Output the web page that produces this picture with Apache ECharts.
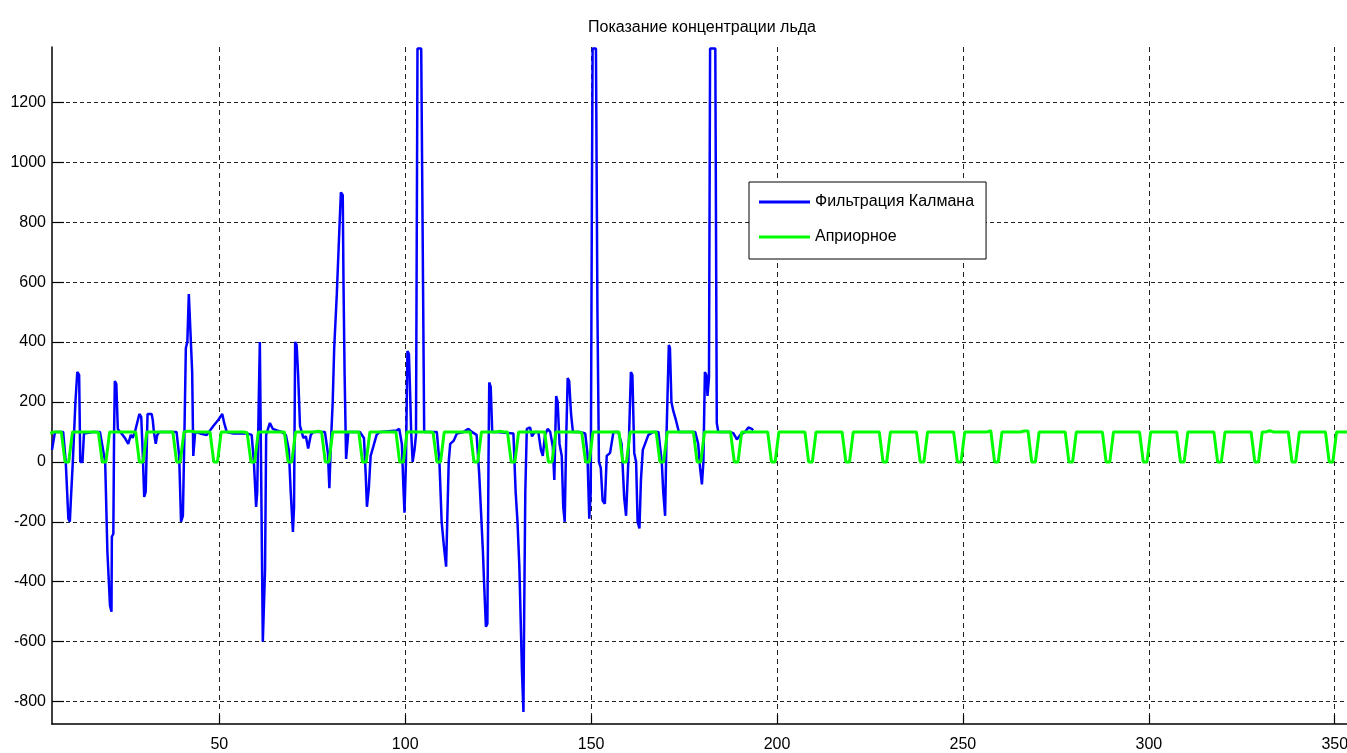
<!DOCTYPE html>
<html><head><meta charset="utf-8">
<script src="https://cdn.jsdelivr.net/npm/echarts@6/dist/echarts.min.js"></script>
<style>html,body{margin:0;padding:0;background:#fff}#c{width:1347px;height:753px}</style>
</head><body><div id="c"></div>
<script>
const titleText = 'Показание концентрации льда';
const seriesNames = ['Фильтрация Калмана', 'Априорное'];
const xTicks = [50, 100, 150, 200, 250, 300, 350];
const yTicks = [-800, -600, -400, -200, 0, 200, 400, 600, 800, 1000, 1200];

// Kalman filter trace (x, value)
const kalmanX = [
  5.0, 5.8, 8.0, 8.7, 9.4, 9.8, 10.1, 10.6, 11.3, 11.8, 12.3, 12.6, 13.2, 13.6, 14.1, 16.0, 17.9, 18.4, 19.3, 19.7,
  19.9, 20.6, 21.0, 21.1, 21.5, 21.7, 21.9, 22.3, 22.7, 23.3, 24.0, 24.6, 25.5, 26.2, 26.7, 27.3, 27.9, 28.5, 29.0, 29.4,
  29.8, 30.2, 30.7, 31.8, 32.1, 32.4, 32.9, 33.3, 33.9, 36.0, 38.5, 39.2, 39.7, 40.2, 40.6, 41.0, 41.4, 41.8, 42.3, 42.7,
  43.0, 43.5, 44.8, 46.6, 48.4, 49.7, 50.8, 51.3, 52.0, 53.8, 57.4, 58.7, 59.3, 59.9, 60.2, 60.6, 60.9, 61.4, 61.7, 62.0,
  62.3, 62.6, 63.1, 63.6, 64.4, 65.5, 66.8, 67.9, 68.7, 69.2, 69.8, 70.1, 70.4, 70.8, 71.2, 71.7, 72.6, 73.3, 73.9, 74.6,
  75.3, 78.4, 79.2, 79.6, 80.0, 80.5, 80.9, 81.6, 82.3, 82.7, 83.2, 83.4, 83.7, 84.1, 84.7, 86.0, 87.8, 88.9, 89.4, 89.7,
  90.2, 90.7, 91.4, 92.3, 93.2, 97.7, 98.4, 99.1, 99.5, 99.8, 100.2, 100.6, 101.0, 101.3, 101.6, 102.0, 102.5, 102.9, 103.3, 104.3,
  104.7, 105.1, 108.5, 109.2, 109.8, 110.4, 111.0, 111.3, 111.7, 112.1, 113.0, 113.9, 115.7, 117.0, 117.9, 119.2, 119.9, 120.4, 120.9, 121.2,
  121.7, 122.1, 122.4, 122.6, 123.0, 123.4, 124.6, 129.1, 129.7, 130.2, 130.7, 131.1, 131.4, 131.8, 132.0, 132.3, 132.7, 133.6, 134.1, 134.9,
  135.8, 136.5, 137.0, 137.6, 138.3, 139.0, 139.7, 140.1, 140.6, 141.0, 141.5, 142.1, 142.5, 142.9, 143.3, 143.7, 144.1, 144.6, 145.1, 147.0,
  148.4, 149.0, 149.5, 149.9, 150.2, 150.4, 151.3, 151.7, 152.1, 152.6, 153.1, 153.7, 154.2, 155.1, 156.0, 157.3, 158.2, 158.9, 159.4, 160.0,
  160.7, 161.1, 161.6, 162.1, 162.5, 163.0, 163.4, 163.9, 164.5, 165.4, 166.7, 168.1, 169.0, 169.4, 169.9, 170.3, 170.9, 171.2, 171.6, 172.1,
  172.8, 173.6, 175.7, 178.0, 178.8, 179.3, 179.8, 180.2, 180.6, 181.0, 181.3, 181.7, 182.0, 183.4, 183.8, 184.2, 187.4, 188.3, 189.2, 190.1,
  191.4, 192.3, 193.2, 193.6
];
const kalmanY = [
  40, 100, 100, 0, -190, -200, -120, 0, 200, 300, 290, 0, 0, 95, 100, 100, 100, 95, 0, -200,
  -300, -480, -500, -250, -240, 100, 270, 260, 110, 100, 90, 80, 60, 90, 80, 100, 130, 160, 150, 30,
  -117, -100, 160, 160, 140, 100, 60, 90, 100, 100, 100, 20, -200, -180, 80, 380, 400, 560, 560, 300,
  20, 100, 95, 90, 120, 140, 160, 130, 100, 95, 95, 90, 0, -150, -100, 200, 400, 400, -600, -600,
  -360, 90, 110, 130, 110, 105, 100, 90, 40, -100, -234, -150, 400, 390, 290, 120, 80, 85, 45, 90,
  100, 100, 30, -88, 60, 200, 380, 560, 780, 900, 890, 600, 290, 10, 100, 100, 100, 80, -50, -150,
  -90, 20, 50, 90, 100, 105, 110, 60, -80, -170, 0, 370, 360, 240, 100, 0, 40, 90, 1380, 1380,
  740, 100, 100, 0, -200, -280, -350, -200, 0, 60, 70, 95, 100, 110, 100, 90, -40, -170, -300, -400,
  -550, -540, 0, 265, 250, 100, 100, 95, -100, -200, -350, -550, -700, -835, -500, -100, 110, 115, 85, 100,
  100, 40, 20, 90, 110, 100, 50, -60, 220, 200, 60, 20, -150, -200, 80, 280, 270, 160, 100, 100,
  95, 30, -190, -100, 850, 1380, 1380, 500, 0, -20, -130, -140, 20, 30, 100, 100, 60, -120, -180, 0,
  300, 290, 30, 0, -200, -222, -60, 40, 60, 90, 100, 100, 0, -100, -180, 100, 390, 380, 200, 170,
  140, 100, 100, 100, 60, -20, -75, 0, 300, 290, 220, 280, 1380, 1380, 130, 100, 100, 95, 75, 90,
  100, 115, 110, 105
];

// A-priori trace, one sample per unit starting at aprioriStart
const aprioriStart = 4.5;
const aprioriY = [
  95, 100, 100, 100, 0, 0, 100, 100, 100, 100,
  100, 100, 100, 98, 0, 0, 100, 100, 100, 100,
  100, 100, 100, 100, 0, 0, 100, 100, 100, 100,
  100, 100, 100, 100, 0, 0, 100, 102, 102, 100,
  100, 100, 100, 100, 0, 0, 100, 100, 100, 100,
  100, 100, 100, 97, 0, 0, 100, 100, 100, 100,
  100, 100, 100, 100, 0, 0, 100, 100, 100, 100,
  100, 100, 102, 100, 0, 0, 100, 100, 100, 100,
  100, 100, 100, 100, 0, 0, 100, 100, 100, 100,
  100, 100, 100, 100, 0, 0, 100, 100, 101, 100,
  100, 100, 100, 98, 0, 0, 100, 100, 100, 100,
  100, 100, 100, 100, 0, 0, 100, 100, 100, 100,
  100, 102, 100, 100, 0, 0, 100, 100, 100, 100,
  100, 100, 100, 100, 0, 0, 100, 100, 100, 100,
  100, 100, 100, 97, 0, 0, 100, 100, 100, 100,
  100, 100, 100, 100, 0, 0, 100, 100, 100, 100,
  100, 100, 100, 100, 0, 0, 100, 100, 100, 100,
  100, 100, 100, 100, 0, 0, 100, 100, 100, 100,
  100, 100, 100, 100, 0, 0, 100, 100, 100, 100,
  100, 100, 100, 100, 0, 0, 100, 100, 100, 100,
  100, 100, 100, 100, 0, 0, 100, 100, 100, 100,
  100, 100, 100, 100, 0, 0, 100, 100, 100, 100,
  100, 100, 100, 100, 0, 0, 100, 100, 100, 100,
  100, 100, 100, 100, 0, 0, 100, 100, 100, 100,
  100, 100, 100, 100, 0, 0, 100, 100, 100, 100,
  100, 100, 100, 104, 0, 0, 100, 100, 100, 100,
  100, 100, 103, 103, 0, 0, 100, 100, 100, 100,
  100, 100, 100, 100, 0, 0, 100, 100, 100, 100,
  100, 100, 100, 100, 0, 0, 100, 100, 100, 100,
  100, 100, 100, 100, 0, 0, 100, 100, 100, 100,
  100, 100, 100, 100, 0, 0, 100, 100, 100, 100,
  100, 100, 100, 100, 0, 0, 100, 100, 100, 100,
  100, 100, 100, 100, 0, 0, 100, 100, 104, 100,
  100, 100, 100, 100, 0, 0, 100, 100, 100, 100,
  100, 100, 100, 100, 0, 0, 100, 100, 100, 100
];

const FONT = "'Liberation Sans', Arial, sans-serif";

const kalmanData = kalmanX.map((x, i) => [x, kalmanY[i]]);
const aprioriData = aprioriY.map((y, i) => [aprioriStart + i, y]);

const chart = echarts.init(document.getElementById('c'), null, {renderer: 'canvas'});
chart.setOption({
  animation: false,
  backgroundColor: '#ffffff',
  title: {
    text: titleText, left: 697, top: 15, textAlign: 'center',
    textStyle: {fontFamily: FONT, fontSize: 16, fontWeight: 'normal', color: '#000'}
  },
  legend: {
    orient: 'vertical', left: 749, top: 182, icon: 'rect',
    padding: [10, 12, 12, 10], itemGap: 15, itemWidth: 51, itemHeight: 3,
    backgroundColor: '#fff', borderColor: '#000', borderWidth: 1, borderRadius: 0,
    textStyle: {fontFamily: FONT, fontSize: 16, lineHeight: 20, color: '#000'},
    data: seriesNames
  },
  grid: {left: 52, right: 0, top: 47, bottom: 29, containLabel: false, outerBoundsMode: 'none'},
  xAxis: {
    type: 'value', min: 5, max: 353.3,
    axisLine: {onZero: false, lineStyle: {color: '#000', width: 1.5}},
    axisTick: {inside: true, length: 9, customValues: xTicks, lineStyle: {color: '#000', width: 1.2}},
    axisLabel: {customValues: xTicks, margin: 13, fontFamily: FONT, fontSize: 16, color: '#000',
      formatter: v => String(v)},
    splitLine: {show: true, lineStyle: {type: [5, 4], color: '#222', width: 1}}
  },
  yAxis: {
    type: 'value', min: -875, max: 1385,
    axisLine: {show: true, onZero: false, lineStyle: {color: '#000', width: 1.5}},
    axisTick: {show: true, inside: true, length: 12, customValues: yTicks, lineStyle: {color: '#000', width: 1.2}},
    axisLabel: {customValues: yTicks, margin: 6, fontFamily: FONT, fontSize: 16, color: '#000',
      formatter: v => String(v)},
    splitLine: {show: true, lineStyle: {type: [4, 3], color: '#222', width: 1}}
  },
  series: [
    {
      name: seriesNames[0], type: 'line', data: kalmanData, symbol: 'none', clip: true,
      lineStyle: {color: '#0000ff', width: 2.5}, itemStyle: {color: '#0000ff'}
    },
    {
      name: seriesNames[1], type: 'line', data: aprioriData, symbol: 'none', clip: true,
      lineStyle: {color: '#00ff00', width: 3}, itemStyle: {color: '#00ff00'}
    }
  ]
});
</script>
</body></html>
